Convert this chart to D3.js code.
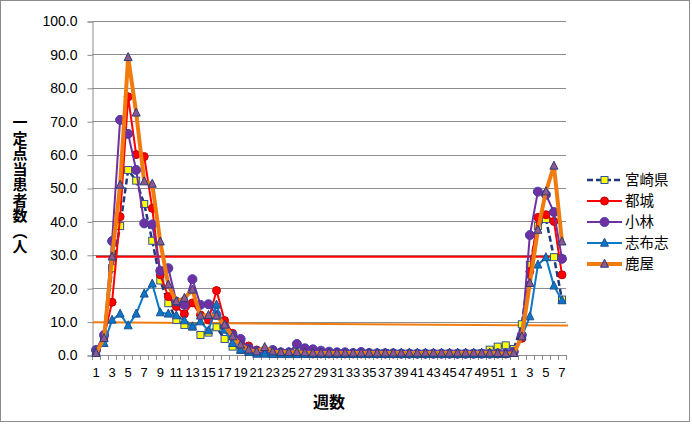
<!DOCTYPE html>
<html><head><meta charset="utf-8">
<script src="https://cdn.jsdelivr.net/npm/d3@7/dist/d3.min.js"></script>
<style>
html,body{margin:0;padding:0;background:#fff;}
svg{display:block;}
</style></head>
<body>
<svg id="c" width="692" height="424"></svg>
<script>
const weekLabels = ["1","2","3","4","5","6","7","8","9","10","11","12","13","14","15","16","17","18","19","20","21","22","23","24","25","26","27","28","29","30","31","32","33","34","35","36","37","38","39","40","41","42","43","44","45","46","47","48","49","50","51","52","1","2","3","4","5","6","7"];
const seriesNames = ["宮崎県","都城","小林","志布志","鹿屋"];
const miyazaki = [1.0,5.0,26.0,38.6,55.4,52.2,45.2,34.2,22.3,15.5,10.5,9.0,8.5,6.0,6.7,8.3,4.8,2.5,1.5,1.0,0.8,0.8,0.8,0.6,0.6,0.8,0.6,0.5,0.5,0.4,0.4,0.4,0.4,0.4,0.4,0.4,0.6,0.4,0.4,0.4,0.4,0.4,0.4,0.4,0.4,0.4,0.4,0.4,0.5,1.6,2.5,2.9,1.8,9.2,27.0,38.6,40.7,29.3,16.6];
const miyakonojo = [1.2,5.5,15.8,41.4,77.3,60.0,59.4,43.9,24.0,17.5,14.5,12.3,15.6,12.0,10.5,19.3,10.3,6.5,4.0,2.7,1.5,1.0,0.8,0.5,0.4,0.4,0.4,0.3,0.3,0.3,0.3,0.3,0.3,0.3,0.3,0.3,0.3,0.3,0.3,0.3,0.3,0.3,0.3,0.3,0.3,0.3,0.3,0.3,0.3,0.3,0.3,0.3,1.0,5.0,25.0,41.2,42.0,40.0,24.0];
const kobayashi = [1.5,6.0,34.1,70.4,66.2,55.4,39.4,39.1,25.2,26.0,16.0,15.0,22.7,15.0,15.2,12.0,8.5,6.0,4.8,2.0,1.2,1.0,1.5,0.8,0.8,3.3,2.0,1.7,1.3,1.0,0.8,0.8,0.6,0.9,0.6,0.5,0.5,0.5,0.4,0.4,0.4,0.4,0.4,0.4,0.4,0.4,0.4,0.4,0.4,0.4,0.5,0.5,1.0,6.0,35.9,48.9,48.0,42.8,28.8];
const shibushi = [1.0,3.5,10.5,12.3,8.8,12.3,18.3,21.3,12.7,12.3,11.8,10.3,8.5,10.0,7.3,15.0,7.5,3.5,1.5,0.8,0.3,0.3,0.2,0.2,0.2,0.2,0.2,0.2,0.2,0.2,0.2,0.2,0.2,0.2,0.2,0.2,0.2,0.2,0.2,0.2,0.2,0.2,0.2,0.2,0.2,0.2,0.2,0.2,0.2,0.2,0.2,0.3,0.5,5.5,11.5,27.0,29.2,20.7,16.3];
const kanoya = [0.5,5.0,29.4,50.9,89.1,72.5,51.9,51.2,33.9,21.0,16.0,17.0,19.5,11.7,11.9,11.7,9.0,5.5,3.0,1.5,1.0,2.3,1.0,0.8,0.8,0.8,0.7,0.6,0.6,0.6,0.6,0.6,0.6,0.6,0.6,0.6,0.6,0.6,0.6,0.6,0.6,0.6,0.6,0.6,0.6,0.6,0.6,0.6,0.6,0.6,0.5,0.4,0.5,5.5,21.5,37.4,48.9,56.6,33.9];
const alertStart = [29.4, 29.4];
const alertEnd = [9.8, 8.8];
const yTicks = [0,10,20,30,40,50,60,70,80,90,100];
const yTitle = "一定点当患者数（人";

const svg = d3.select("#c");
const W = 692, H = 424;
const L = 92, R = 566, T = 21, B = 355;
const n = weekLabels.length;
const x = d3.scaleBand().domain(d3.range(n)).range([L, R]).paddingInner(0).paddingOuter(0);
const cx = i => x(i) + x.bandwidth()/2;
const y = d3.scaleLinear().domain([0,100]).range([B, T]);
const numFont = "'Liberation Sans', Arial, sans-serif";
const jpFont = "'Noto Sans CJK JP', sans-serif";

// outer border
svg.append("rect").attr("x",0.5).attr("y",0.5).attr("width",W-3).attr("height",H-3)
  .attr("fill","#fff").attr("stroke","#8c8c8c");

// gridlines
svg.append("g").selectAll("line").data(yTicks.filter(d=>d>0)).join("line")
  .attr("x1",L).attr("x2",R).attr("y1",d=>Math.round(y(d))+0.5).attr("y2",d=>Math.round(y(d))+0.5)
  .attr("stroke","#8c8c8c").attr("stroke-width",1);

// y axis
const yAxis = d3.axisLeft(y).tickValues(yTicks).tickSize(5).tickPadding(10).tickFormat(d3.format(".1f"));
const yg = svg.append("g").attr("transform",`translate(${L+0.5},0.5)`).call(yAxis);
yg.select(".domain").attr("stroke","#8c8c8c");
yg.selectAll(".tick line").attr("stroke","#8c8c8c");
yg.selectAll("text").attr("font-family",numFont).attr("font-size",14).attr("fill","#000");

// x axis
svg.append("line").attr("x1",L).attr("x2",R).attr("y1",B+0.5).attr("y2",B+0.5).attr("stroke","#8c8c8c");
svg.append("g").selectAll("line").data(d3.range(n+1)).join("line")
  .attr("x1",i=> Math.round(i<n ? x(i) : R)+0.5).attr("x2",i=> Math.round(i<n ? x(i) : R)+0.5)
  .attr("y1",B).attr("y2",B+5).attr("stroke","#8c8c8c");
const xAxis = d3.axisBottom(x).tickValues(d3.range(0,n,2)).tickSize(0).tickPadding(13).tickFormat(i=>weekLabels[i]);
const xg = svg.append("g").attr("transform",`translate(0,${B})`).call(xAxis);
xg.select(".domain").remove();
xg.selectAll("text").attr("font-family",numFont).attr("font-size",13).attr("fill","#000");

// threshold lines
const xt = d3.scaleLinear().domain([0,1]).range([L+1, R]);
svg.append("line").attr("x1",xt(0)+3).attr("x2",xt(1)).attr("y1",y(alertStart[0])).attr("y2",y(alertStart[1]))
  .attr("stroke","#ff0000").attr("stroke-width",2);
svg.append("line").attr("x1",xt(0)).attr("x2",xt(1)+2).attr("y1",y(alertEnd[0])).attr("y2",y(alertEnd[1]))
  .attr("stroke","#f07c10").attr("stroke-width",2);

// series
const series = [
  {name:seriesNames[0], data:miyazaki, color:"#1f3a7a", width:2.5, dash:"6,3", marker:"square", fill:"#ffff00", mstroke:"#3050a0", size:7},
  {name:seriesNames[1], data:miyakonojo, color:"#ff0000", width:2, dash:null, marker:"circle", fill:"#ff0000", mstroke:"#c00000", size:4},
  {name:seriesNames[2], data:kobayashi, color:"#7030a0", width:2, dash:null, marker:"circle", fill:"#7030a0", mstroke:"#4040b0", size:4.5},
  {name:seriesNames[3], data:shibushi, color:"#0a78c8", width:2, dash:null, marker:"triangle", fill:"#0a78c8", mstroke:"#1f4e8c", size:8},
  {name:seriesNames[4], data:kanoya, color:"#f07c10", width:4, dash:null, marker:"triangle", fill:"#8e5a8e", mstroke:"#2c3a78", size:8},
];
const line = d3.line().x((d,i)=>cx(i)).y(d=>y(d));

function drawMarker(g, s, px, py){
  if(s.marker==="square"){
    g.append("rect").attr("x",px-s.size/2).attr("y",py-s.size/2).attr("width",s.size).attr("height",s.size)
      .attr("fill",s.fill).attr("stroke",s.mstroke).attr("stroke-width",1);
  } else if(s.marker==="circle"){
    g.append("circle").attr("cx",px).attr("cy",py).attr("r",s.size).attr("fill",s.fill).attr("stroke",s.mstroke).attr("stroke-width",1);
  } else {
    const h = s.size, w = s.size;
    g.append("path").attr("d",`M${px},${py-h*0.6}L${px+w/2},${py+h*0.4}L${px-w/2},${py+h*0.4}Z`)
      .attr("fill",s.fill).attr("stroke",s.mstroke).attr("stroke-width",1);
  }
}

series.forEach(s=>{
  const g = svg.append("g");
  g.append("path").datum(s.data).attr("d",line).attr("fill","none").attr("stroke",s.color)
    .attr("stroke-width",s.width).attr("stroke-dasharray",s.dash).attr("stroke-linejoin","round");
  s.data.forEach((d,i)=>drawMarker(g, s, cx(i), y(d)));
});

// legend
const lg = svg.append("g");
const legY = [180,201,222,243,264];
series.forEach((s,k)=>{
  const yy = legY[k];
  lg.append("line").attr("x1",587).attr("x2",622).attr("y1",yy).attr("y2",yy).attr("stroke",s.color)
    .attr("stroke-width",s.width).attr("stroke-dasharray",s.dash);
  drawMarker(lg, s, 604.5, yy);
  lg.append("text").attr("x",625).attr("y",yy).attr("dy","0.36em").attr("font-family",jpFont)
    .attr("font-size",14.5).attr("fill","#000").text(s.name);
});

// y axis title: vertical writing
svg.append("text").attr("x",20).attr("y",115).attr("font-family",jpFont).attr("font-size",15)
  .attr("font-weight","bold").attr("fill","#000")
  .style("writing-mode","vertical-rl").style("text-orientation","upright")
  .style("letter-spacing","0.5px")
  .text(yTitle);
svg.append("text").attr("x",329).attr("y",402).attr("dy","0.36em").attr("text-anchor","middle")
  .attr("font-family",jpFont).attr("font-size",16).attr("font-weight","bold").attr("fill","#000").text("週数");
</script>
</body></html>
